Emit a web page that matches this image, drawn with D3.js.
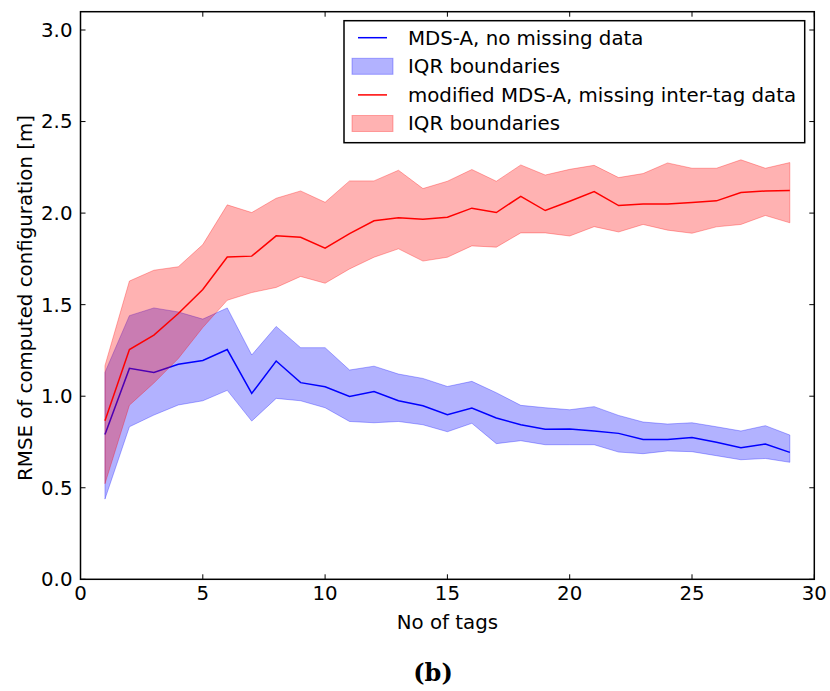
<!DOCTYPE html>
<html>
<head>
<meta charset="utf-8">
<script src="https://cdn.jsdelivr.net/npm/d3@7"></script>
<style>
  html, body { margin: 0; padding: 0; background: #fff; }
  svg text { font-family: "DejaVu Sans", sans-serif; fill: #000; }
</style>
</head>
<body>
<svg id="chart" width="830" height="691"></svg>
<script>
// Number of tags on the x axis
const tags = d3.range(1, 30);

// MDS-A, no missing data: median RMSE and interquartile range
const blueMedian = [0.791, 1.152, 1.130, 1.174, 1.195, 1.255, 1.015, 1.192, 1.074, 1.052,
                    0.999, 1.026, 0.975, 0.948, 0.899, 0.935, 0.881, 0.844, 0.819, 0.821,
                    0.810, 0.797, 0.764, 0.764, 0.775, 0.748, 0.719, 0.739, 0.693];
const blueUpper  = [1.130, 1.440, 1.482, 1.460, 1.421, 1.482, 1.225, 1.381, 1.265, 1.265,
                    1.143, 1.164, 1.121, 1.097, 1.053, 1.081, 1.019, 0.950, 0.937, 0.926,
                    0.943, 0.895, 0.859, 0.848, 0.855, 0.833, 0.810, 0.839, 0.788];
const blueLower  = [0.438, 0.833, 0.897, 0.952, 0.975, 1.032, 0.864, 0.988, 0.975, 0.937,
                    0.862, 0.855, 0.862, 0.844, 0.806, 0.852, 0.741, 0.757, 0.735, 0.735,
                    0.735, 0.695, 0.686, 0.701, 0.697, 0.675, 0.653, 0.660, 0.639];

// Modified MDS-A, missing inter-tag data: median RMSE and interquartile range
const redMedian  = [0.866, 1.255, 1.334, 1.452, 1.583, 1.760, 1.765, 1.876, 1.868, 1.808,
                    1.888, 1.958, 1.974, 1.966, 1.977, 2.027, 2.003, 2.092, 2.014, 2.065,
                    2.118, 2.041, 2.050, 2.050, 2.058, 2.067, 2.112, 2.121, 2.124];
const redUpper   = [1.167, 1.629, 1.688, 1.707, 1.828, 2.045, 2.003, 2.081, 2.121, 2.059,
                    2.176, 2.176, 2.234, 2.134, 2.174, 2.238, 2.174, 2.263, 2.208, 2.239,
                    2.261, 2.194, 2.216, 2.274, 2.245, 2.245, 2.291, 2.245, 2.276];
const redLower   = [0.522, 0.951, 1.072, 1.206, 1.375, 1.524, 1.566, 1.594, 1.654, 1.617,
                    1.695, 1.759, 1.805, 1.738, 1.759, 1.821, 1.814, 1.892, 1.892, 1.875,
                    1.926, 1.897, 1.938, 1.907, 1.890, 1.925, 1.938, 1.987, 1.947];

// Axis ticks
const xTicks = [0, 5, 10, 15, 20, 25, 30];
const yTicks = [0.0, 0.5, 1.0, 1.5, 2.0, 2.5, 3.0];

const legendItems = [
  { kind: "line", color: "#0000ff", label: "MDS-A, no missing data" },
  { kind: "patch", color: "#0000ff", label: "IQR boundaries" },
  { kind: "line", color: "#ff0000", label: "modified MDS-A, missing inter-tag data" },
  { kind: "patch", color: "#ff0000", label: "IQR boundaries" }
];

const FS = 19.8;
const svg = d3.select("#chart");
const margin = { left: 80.5, right: 814.3, top: 11.7, bottom: 579.3 };

const x = d3.scaleLinear().domain([0, 30]).range([margin.left, margin.right]);
const y = d3.scaleLinear().domain([0, 3.1]).range([margin.bottom, margin.top]);

const rows = tags.map((t, i) => ({
  t,
  bm: blueMedian[i], bu: blueUpper[i], bl: blueLower[i],
  rm: redMedian[i], ru: redUpper[i], rl: redLower[i]
}));

const plot = svg.append("g");

function band(color, lo, hi) {
  plot.append("path")
    .datum(rows)
    .attr("d", d3.area().x(d => x(d.t)).y0(d => y(d[lo])).y1(d => y(d[hi])))
    .attr("fill", color).attr("fill-opacity", 0.3)
    .attr("stroke", color).attr("stroke-opacity", 0.3).attr("stroke-width", 1);
}
function median(color, key) {
  plot.append("path")
    .datum(rows)
    .attr("d", d3.line().x(d => x(d.t)).y(d => y(d[key])))
    .attr("fill", "none").attr("stroke", color).attr("stroke-width", 1.5);
}

band("#0000ff", "bl", "bu");
median("#0000ff", "bm");
band("#ff0000", "rl", "ru");
median("#ff0000", "rm");

// Ticks pointing inward on all four sides
const tickLen = 5;
const axes = svg.append("g").attr("stroke", "#000").attr("stroke-width", 1);
xTicks.forEach(v => {
  axes.append("line").attr("x1", x(v)).attr("x2", x(v)).attr("y1", margin.bottom).attr("y2", margin.bottom - tickLen);
  axes.append("line").attr("x1", x(v)).attr("x2", x(v)).attr("y1", margin.top).attr("y2", margin.top + tickLen);
});
yTicks.forEach(v => {
  axes.append("line").attr("y1", y(v)).attr("y2", y(v)).attr("x1", margin.left).attr("x2", margin.left + tickLen);
  axes.append("line").attr("y1", y(v)).attr("y2", y(v)).attr("x1", margin.right).attr("x2", margin.right - tickLen);
});

// Frame
svg.append("rect")
  .attr("x", margin.left).attr("y", margin.top)
  .attr("width", margin.right - margin.left).attr("height", margin.bottom - margin.top)
  .attr("fill", "none").attr("stroke", "#000").attr("stroke-width", 1.5);

// Tick labels
const fmt = d3.format(".1f");
svg.append("g").selectAll("text").data(xTicks).join("text")
  .attr("x", d => x(d)).attr("y", margin.bottom + 21)
  .attr("text-anchor", "middle").attr("font-size", FS)
  .text(d => d);
svg.append("g").selectAll("text").data(yTicks).join("text")
  .attr("x", margin.left - 8).attr("y", d => y(d)).attr("dy", "0.35em")
  .attr("text-anchor", "end").attr("font-size", FS)
  .text(d => fmt(d));

// Axis titles
svg.append("text")
  .attr("x", (margin.left + margin.right) / 2).attr("y", 629)
  .attr("text-anchor", "middle").attr("font-size", FS)
  .text("No of tags");
svg.append("text")
  .attr("transform", `translate(32,298) rotate(-90)`)
  .attr("text-anchor", "middle").attr("font-size", FS)
  .text("RMSE of computed configuration [m]");

// Sub-figure caption
svg.append("text")
  .attr("x", 433).attr("y", 681)
  .attr("text-anchor", "middle").attr("font-size", 24)
  .attr("font-weight", "bold")
  .style("font-family", "'DejaVu Serif', serif")
  .text("(b)");

// Legend
const lg = svg.append("g");
lg.append("rect")
  .attr("x", 344).attr("y", 20.7).attr("width", 460.7).attr("height", 122)
  .attr("fill", "#fff").attr("stroke", "#000").attr("stroke-width", 1.5);
legendItems.forEach((d, i) => {
  const cy = 37.7 + i * 28.6;
  if (d.kind === "line") {
    lg.append("line").attr("x1", 358).attr("x2", 387).attr("y1", cy).attr("y2", cy)
      .attr("stroke", d.color).attr("stroke-width", 1.5);
  } else {
    lg.append("rect").attr("x", 352).attr("y", cy - 8).attr("width", 41).attr("height", 16)
      .attr("fill", d.color).attr("fill-opacity", 0.3)
      .attr("stroke", d.color).attr("stroke-opacity", 0.3).attr("stroke-width", 1);
  }
  lg.append("text").attr("x", 408).attr("y", cy).attr("dy", "0.35em")
    .attr("font-size", FS).text(d.label);
});
</script>
</body>
</html>
